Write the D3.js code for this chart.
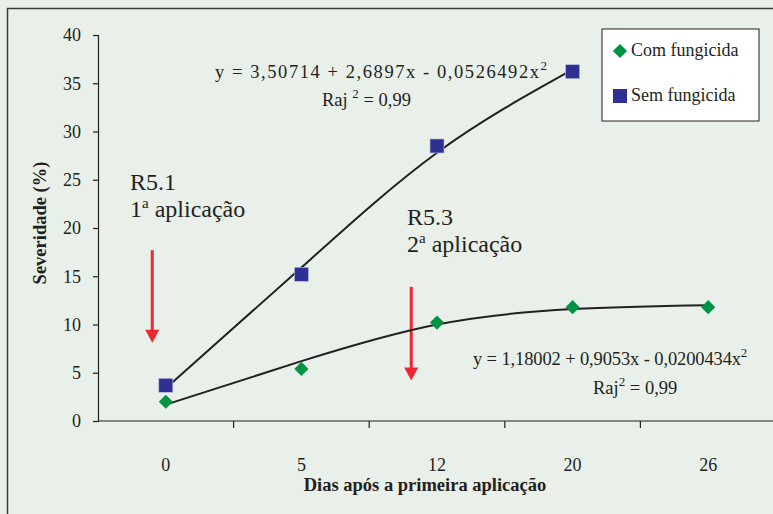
<!DOCTYPE html>
<html>
<head>
<meta charset="utf-8">
<script src="https://cdn.jsdelivr.net/npm/d3@7"></script>
<style>
  body { margin: 0; background: #e9f0ea; }
  svg text { font-family: "Liberation Serif", "DejaVu Serif", "Times New Roman", serif; }
</style>
</head>
<body>
<div id="chart"></div>
<script>
// dias apos a primeira aplicacao (eixo de categorias)
const categories = ["0", "5", "12", "20", "26"];
const comValues = [2.0, 5.4, 10.2, 11.8, 11.8];   // com fungicida
const semValues = [3.7, 15.2, 28.5, 36.2];        // sem fungicida
// linhas de tendencia
const comTrend = [1.7, 6.2, 10.0, 11.6, 12.0];
const semTrend = [3.4, 15.9, 27.8, 36.4];
const yTicks = [0, 5, 10, 15, 20, 25, 30, 35, 40];

const width = 773, height = 514;
const green = "#009245", blue = "#2e3192", red = "#ee2630", ink = "#231f20";
const serif = "'Liberation Serif', 'DejaVu Serif', serif";

const svg = d3.select("#chart").append("svg")
  .attr("width", width)
  .attr("height", height);

// moldura externa
svg.append("rect")
  .attr("x", 7.5).attr("y", 8.5)
  .attr("width", 800).attr("height", 540)
  .attr("fill", "#e9f0ea")
  .attr("stroke", "#3a3a3a").attr("stroke-width", 1.5);

const x = d3.scaleBand().domain(categories).range([98, 776]).padding(0);
const xi = d3.scaleLinear().domain([-0.5, categories.length - 0.5]).range([98, 776]);
const y = d3.scaleLinear().domain([0, 40]).range([421, 35]);
const cx = (i) => x(categories[i]) + x.bandwidth() / 2;

// eixo y
const yAxis = svg.append("g").attr("transform", "translate(98,0)")
  .call(d3.axisLeft(y).tickValues(yTicks).tickSize(5).tickPadding(12));
yAxis.select(".domain").attr("stroke", ink).attr("stroke-width", 1.2);
yAxis.selectAll(".tick line").attr("stroke", ink).attr("stroke-width", 1.2);
yAxis.selectAll(".tick text")
  .attr("font-family", serif).attr("font-size", 18).attr("fill", ink);

// eixo x (marcas entre categorias)
svg.append("line")
  .attr("x1", 98).attr("x2", width).attr("y1", y(0)).attr("y2", y(0))
  .attr("stroke", ink).attr("stroke-width", 1.2);
svg.selectAll(".xtick").data(categories.slice(1)).enter().append("line")
  .attr("x1", d => x(d)).attr("x2", d => x(d))
  .attr("y1", y(0)).attr("y2", y(0) + 7)
  .attr("stroke", ink).attr("stroke-width", 1.2);
svg.selectAll(".xlabel").data(categories).enter().append("text")
  .attr("x", (d, i) => cx(i)).attr("y", 471)
  .attr("text-anchor", "middle").attr("font-family", serif)
  .attr("font-size", 18).attr("fill", ink)
  .text(d => d);

// titulos dos eixos
svg.append("text")
  .attr("x", 425).attr("y", 491)
  .attr("text-anchor", "middle").attr("font-family", serif)
  .attr("font-size", 18.5).attr("font-weight", "bold")
  .attr("fill", ink)
  .text("Dias após a primeira aplicação");
svg.append("text")
  .attr("transform", "translate(46,223) rotate(-90)")
  .attr("text-anchor", "middle").attr("font-family", serif)
  .attr("font-size", 18.5).attr("font-weight", "bold")
  .attr("fill", ink)
  .text("Severidade (%)");

// setas de aplicacao
const arrows = [
  { pos: -0.1, from: 17.7, to: 8.1 },
  { pos: 1.81, from: 13.9, to: 4.2 }
];
arrows.forEach(a => {
  const ax = xi(a.pos), y1 = y(a.from), y2 = y(a.to);
  svg.append("line")
    .attr("x1", ax).attr("x2", ax).attr("y1", y1).attr("y2", y2 - 10)
    .attr("stroke", red).attr("stroke-width", 3);
  svg.append("path")
    .attr("d", `M${ax - 7},${y2 - 13}L${ax + 7},${y2 - 13}L${ax},${y2}Z`)
    .attr("fill", red);
});

// rotulos das aplicacoes
function stageLabel(px, py, stage, n) {
  const t = svg.append("text").attr("x", px).attr("y", py)
    .attr("font-family", serif).attr("font-size", 24).attr("fill", ink);
  t.append("tspan").text(stage);
  const t2 = svg.append("text").attr("x", px).attr("y", py + 27)
    .attr("font-family", serif).attr("font-size", 24).attr("fill", ink);
  t2.append("tspan").text(n);
  t2.append("tspan").attr("font-size", 15).attr("dy", -9).text("a");
  t2.append("tspan").attr("dy", 9).text(" aplicação");
}
stageLabel(130, 190, "R5.1", "1");
stageLabel(407, 225, "R5.3", "2");

// linhas de tendencia
const line = d3.line()
  .x((d, i) => cx(i))
  .y(d => y(d))
  .curve(d3.curveNatural);
[semTrend, comTrend].forEach(t => {
  svg.append("path").datum(t)
    .attr("d", line)
    .attr("fill", "none").attr("stroke", ink).attr("stroke-width", 2);
});

// pontos
const diamond = d3.symbol().type(d3.symbolSquare).size(100);
svg.selectAll(".com").data(comValues).enter().append("path")
  .attr("d", diamond)
  .attr("transform", (d, i) => `translate(${cx(i)},${y(d)}) rotate(45)`)
  .attr("fill", green);
svg.selectAll(".sem").data(semValues).enter().append("rect")
  .attr("x", (d, i) => cx(i) - 7).attr("y", d => y(d) - 7)
  .attr("width", 14).attr("height", 14)
  .attr("fill", blue).attr("stroke", "#b8c0dc").attr("stroke-width", 0.6);

// equacoes
function equation(px, py, txt, sup, tail, len) {
  const t = svg.append("text").attr("x", px).attr("y", py)
    .attr("font-family", serif).attr("font-size", 18.5).attr("fill", ink);
  const main = t.append("tspan").text(txt);
  if (len) main.attr("textLength", len).attr("lengthAdjust", "spacing");
  t.append("tspan").attr("font-size", 13).attr("dy", -8).text(sup);
  if (tail) t.append("tspan").attr("dy", 8).text(tail);
}
equation(215, 78, "y = 3,50714 + 2,6897x - 0,0526492x", "2", null, 324);
equation(322, 106, "Raj ", "2", " = 0,99");
equation(473, 365, "y = 1,18002 + 0,9053x - 0,0200434x", "2", null, 268);
equation(593, 394, "Raj", "2", "  = 0,99");

// legenda
const lg = svg.append("g").attr("transform", "translate(602,29)");
lg.append("rect").attr("width", 157).attr("height", 92)
  .attr("fill", "#ffffff").attr("stroke", ink).attr("stroke-width", 1);
lg.append("path").attr("d", diamond)
  .attr("transform", "translate(18,22) rotate(45)").attr("fill", green);
lg.append("rect").attr("x", 11).attr("y", 60).attr("width", 14).attr("height", 14)
  .attr("fill", blue);
lg.append("text").attr("x", 29).attr("y", 27).attr("font-family", serif)
  .attr("font-size", 18).attr("fill", ink)
  .text("Com fungicida");
lg.append("text").attr("x", 29).attr("y", 72).attr("font-family", serif)
  .attr("font-size", 18).attr("fill", ink)
  .text("Sem fungicida");
</script>
</body>
</html>
